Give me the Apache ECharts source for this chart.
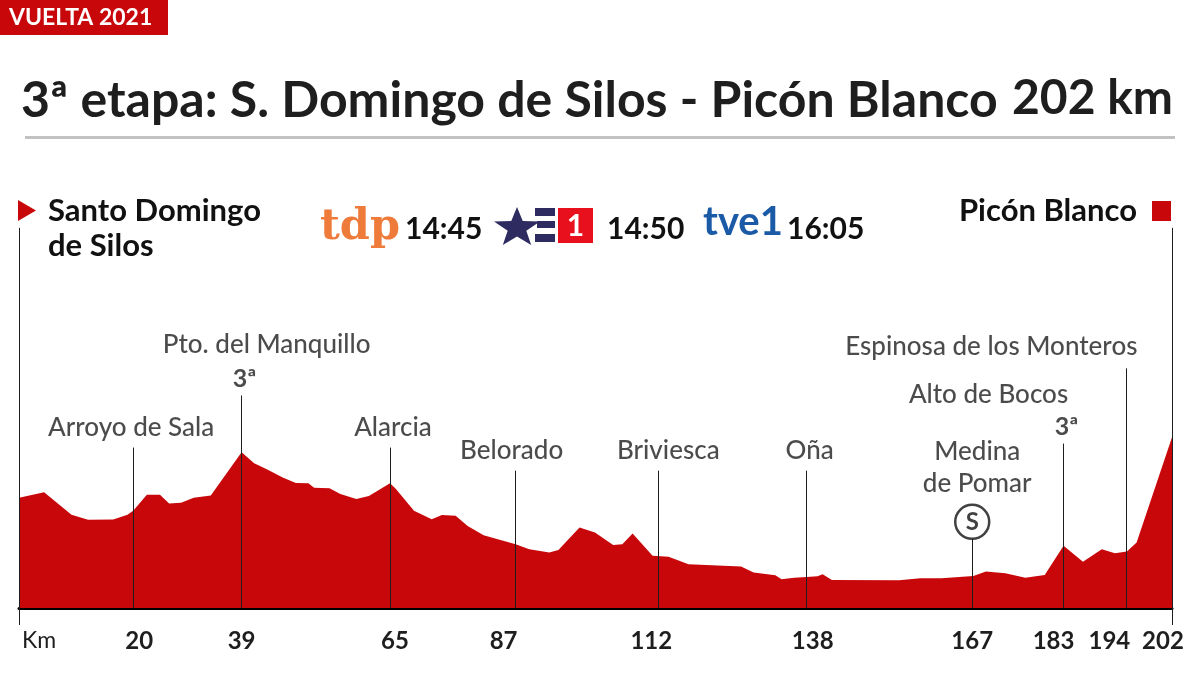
<!DOCTYPE html>
<html>
<head>
<meta charset="utf-8">
<script src="https://cdn.jsdelivr.net/npm/echarts@6/dist/echarts.min.js"></script>
<style>
html,body{margin:0;padding:0;background:#fff;}
#chart{width:1200px;height:675px;}
</style>
</head>
<body>
<div id="chart"></div>
<script>
// ---------- DATA ----------
const tagText = 'VUELTA 2021';
const titleText = '3ª etapa: S. Domingo de Silos - Picón Blanco';
const distanceText = '202 km';
const startName = 'Santo Domingo\nde Silos';
const finishName = 'Picón Blanco';
const tvTimes = ['14:45', '14:50', '16:05'];

const kmTicks = [0, 20, 39, 65, 87, 112, 138, 167, 183, 194, 202];

const profileKm = [0,4.4,9.2,12.1,16.5,19.0,20.0,22.4,24.7,26.3,28.4,30.6,33.6,39.0,41.2,43.5,46.2,48.5,50.7,51.7,54.4,56.3,59.1,61.3,65.0,66.0,69.2,72.3,74.1,76.5,78.6,81.4,87.0,89.4,92.9,94.5,98.2,100.9,104.1,105.7,107.5,111.0,113.8,117.3,126.5,128.7,132.5,133.6,135.8,138.0,139.9,140.8,142.4,154.2,157.9,161.6,167.2,169.4,172.8,176.3,179.7,183.0,186.4,189.7,192.0,194.1,195.8,202.0];
const profileAlt = [1088,1121,981,950,952,981,1006,1106,1106,1052,1056,1088,1102,1371,1302,1264,1214,1179,1177,1150,1146,1111,1079,1098,1177,1144,1006,954,979,975,911,854,798,767,746,761,902,871,792,798,864,725,719,673,658,621,604,579,588,594,598,611,575,573,586,586,600,627,617,589,606,788,689,767,742,752,808,1464];

const placeNames = ['Arroyo de Sala','Pto. del Manquillo','Alarcia','Belorado','Briviesca','Oña','Medina\nde Pomar','Alto de Bocos','Espinosa de los Monteros'];
const placeKm = [20, 39, 65, 87, 112, 138, 167, 183, 194];
const placeLineTop = [1400, 1725, 1400, 1256, 1256, 1256, 831, 1425, 1894];
const climbCategory = ['', '3ª', '', '', '', '', '', '3ª', ''];
const sprintMark = ['', '', '', '', '', '', 'S', '', ''];

const altMin = 400, altMax = 2800;

// ---------- STYLE ----------
const RED = '#c8070b';
const INK = '#1e1e1e';
const FONT = 'Lato, "Noto Sans", sans-serif';
const NARROW = '"Liberation Sans Narrow", Lato, sans-serif';
// per-label layout (px): distance above the line top, horizontal shift
const labelDistance = [4, 35, 4, 4, 4, 4, 39, 33, 6];
const labelShift = [-2, 25, 3, -4, 10, 3, 5, -75, -135];
// horizontal nudge of the km tick labels (px, + = right)
const tickNudge = {20: 6, 65: 5, 87: -12, 112: -7, 138: 6, 183: -10, 194: -17, 202: -9};

const chart = echarts.init(document.getElementById('chart'));

const profileData = profileKm.map((k, i) => [k, profileAlt[i]]);

const lineData = placeKm.map((k, i) => [{coord: [k, altMin]}, {coord: [k, placeLineTop[i]]}]);
lineData.push([{coord: [0, altMin]}, {coord: [0, altMax - 30]}]);
lineData.push([{coord: [202, altMin]}, {coord: [202, altMax - 30]}]);

const nameData = placeKm.map((k, i) => ({
  value: [k, placeLineTop[i]],
  label: {
    show: true, position: 'top', distance: labelDistance[i], offset: [labelShift[i], 0],
    formatter: placeNames[i], fontFamily: FONT, fontWeight: 500, fontSize: 26, color: INK, lineHeight: 32, align: 'center'
  }
}));

const catData = [];
placeKm.forEach((k, i) => {
  if (climbCategory[i]) catData.push({value: [k, placeLineTop[i]], name: climbCategory[i]});
});
const sprintData = [];
placeKm.forEach((k, i) => {
  if (sprintMark[i]) sprintData.push({value: [k, placeLineTop[i]], name: sprintMark[i]});
});

// tick label rich styles with padding used as a horizontal nudge
const tickRich = {km: {fontFamily: FONT, fontWeight: 'normal', fontSize: 23, color: INK, padding: [0, 0, 0, 40]}};
Object.keys(tickNudge).forEach(k => {
  const d = tickNudge[k];
  tickRich['t' + k] = {
    fontFamily: NARROW, fontWeight: 'bold', fontSize: 24, color: INK,
    padding: d > 0 ? [0, 0, 0, 2 * d] : [0, -2 * d, 0, 0]
  };
});

// star for the channel logo
function starPoints(cx, cy, R, r, sx) {
  const pts = [];
  for (let i = 0; i < 10; i++) {
    const a = -Math.PI / 2 + i * Math.PI / 5;
    const rr = i % 2 === 0 ? R : r;
    pts.push([cx + Math.cos(a) * rr * sx, cy + Math.sin(a) * rr]);
  }
  return pts;
}

const option = {
  animation: false,
  grid: {left: 19, right: 28, top: 223, bottom: 67, containLabel: false},
  xAxis: {
    type: 'value', min: 0, max: 202,
    splitLine: {show: false},
    axisLine: {show: true, onZero: false, lineStyle: {color: '#000', width: 3}},
    axisTick: {show: true, customValues: [0, 202], length: 17, inside: false, lineStyle: {color: INK, width: 1}},
    axisLabel: {
      show: true, customValues: kmTicks, margin: 21,
      fontFamily: NARROW, fontWeight: 'bold', fontSize: 24, color: INK,
      formatter: v => {
        if (v === 0) return '{km|Km}';
        if (tickNudge[v] !== undefined) return '{t' + v + '|' + v + '}';
        return String(v);
      },
      rich: tickRich
    }
  },
  yAxis: {type: 'value', min: altMin, max: altMax, show: false, splitLine: {show: false}},
  series: [
    {
      type: 'line', data: profileData, symbol: 'none', silent: true, z: 2,
      lineStyle: {width: 0, color: RED},
      areaStyle: {color: RED, opacity: 1, origin: 'start'},
      markLine: {
        silent: true, symbol: ['none', 'none'], label: {show: false},
        lineStyle: {color: INK, width: 1, type: 'solid'},
        data: lineData
      }
    },
    {
      type: 'scatter', data: nameData, symbolSize: 0, silent: true, z: 5
    },
    {
      type: 'scatter', data: catData, symbolSize: 0, silent: true, z: 5,
      label: {show: true, position: 'top', distance: 4, formatter: p => p.name,
        fontFamily: FONT, fontWeight: 'bold', fontSize: 25, color: INK, offset: [3, 0]}
    },
    {
      type: 'scatter', data: sprintData, symbol: 'circle', symbolSize: 34, symbolOffset: [0, -17], silent: true, z: 6,
      itemStyle: {color: '#fff', borderColor: '#111', borderWidth: 2.5},
      label: {show: true, position: 'inside', formatter: p => p.name,
        fontFamily: FONT, fontWeight: 'bold', fontSize: 24, color: '#111'}
    }
  ],
  graphic: [
    {type: 'rect', shape: {x: 0, y: 0, width: 168, height: 35}, style: {fill: RED}},
    {type: 'text', x: 9, y: 18, style: {text: tagText, fill: '#fff', fontFamily: FONT, fontWeight: 'bold', fontSize: 23, verticalAlign: 'middle'}},
    {type: 'text', x: 21, y: 101, style: {text: titleText, fill: INK, fontFamily: FONT, fontWeight: 'bold', fontSize: 50, verticalAlign: 'middle'}},
    {type: 'text', x: 1173, y: 99, style: {text: distanceText, fill: INK, fontFamily: FONT, fontWeight: 'bold', fontSize: 48, align: 'right', verticalAlign: 'middle'}},
    {type: 'rect', shape: {x: 25, y: 136, width: 1150, height: 3}, style: {fill: '#c2c2c2'}},
    {type: 'polygon', shape: {points: [[18, 200], [36, 210.5], [18, 221]]}, style: {fill: RED}},
    {type: 'text', x: 48, y: 193, style: {text: startName, fill: '#111', fontFamily: FONT, fontWeight: 'bold', fontSize: 31, lineHeight: 35}},
    {type: 'text', x: 1137, y: 211, style: {text: finishName, fill: '#111', fontFamily: FONT, fontWeight: 'bold', fontSize: 31, align: 'right', verticalAlign: 'middle'}},
    {type: 'rect', shape: {x: 1152, y: 201, width: 19, height: 20}, style: {fill: RED}},
    // tv channels
    {type: 'text', x: 320, y: 228, style: {text: 'tdp', fill: '#ef7b3b', fontFamily: '"DejaVu Serif", serif', fontWeight: 'bold', fontSize: 43, verticalAlign: 'middle'}},
    {type: 'text', x: 405, y: 229, style: {text: tvTimes[0], fill: '#111', fontFamily: FONT, fontWeight: 'bold', fontSize: 30, verticalAlign: 'middle'}},
    {type: 'polygon', shape: {points: starPoints(517, 228, 21, 8.5, 1.15)}, style: {fill: '#2d2b5f'}},
    {type: 'rect', shape: {x: 535, y: 208, width: 20, height: 8}, style: {fill: '#2d2b5f'}},
    {type: 'rect', shape: {x: 537, y: 221, width: 18, height: 7}, style: {fill: '#2d2b5f'}},
    {type: 'rect', shape: {x: 535, y: 234, width: 20, height: 8}, style: {fill: '#2d2b5f'}},
    {type: 'rect', shape: {x: 558, y: 208, width: 35, height: 35}, style: {fill: '#e8101c'}},
    {type: 'text', x: 575.5, y: 226, style: {text: '1', fill: '#fff', fontFamily: FONT, fontWeight: 'bold', fontSize: 30, align: 'center', verticalAlign: 'middle'}},
    {type: 'text', x: 607, y: 229, style: {text: tvTimes[1], fill: '#111', fontFamily: FONT, fontWeight: 'bold', fontSize: 30, verticalAlign: 'middle'}},
    {type: 'text', x: 703, y: 222, style: {text: 'tve1', fill: '#1a5aa6', fontFamily: FONT, fontWeight: 'bold', fontSize: 40, verticalAlign: 'middle'}},
    {type: 'text', x: 787, y: 229, style: {text: tvTimes[2], fill: '#111', fontFamily: FONT, fontWeight: 'bold', fontSize: 30, verticalAlign: 'middle'}}
  ]
};
chart.setOption(option);
</script>
</body>
</html>
